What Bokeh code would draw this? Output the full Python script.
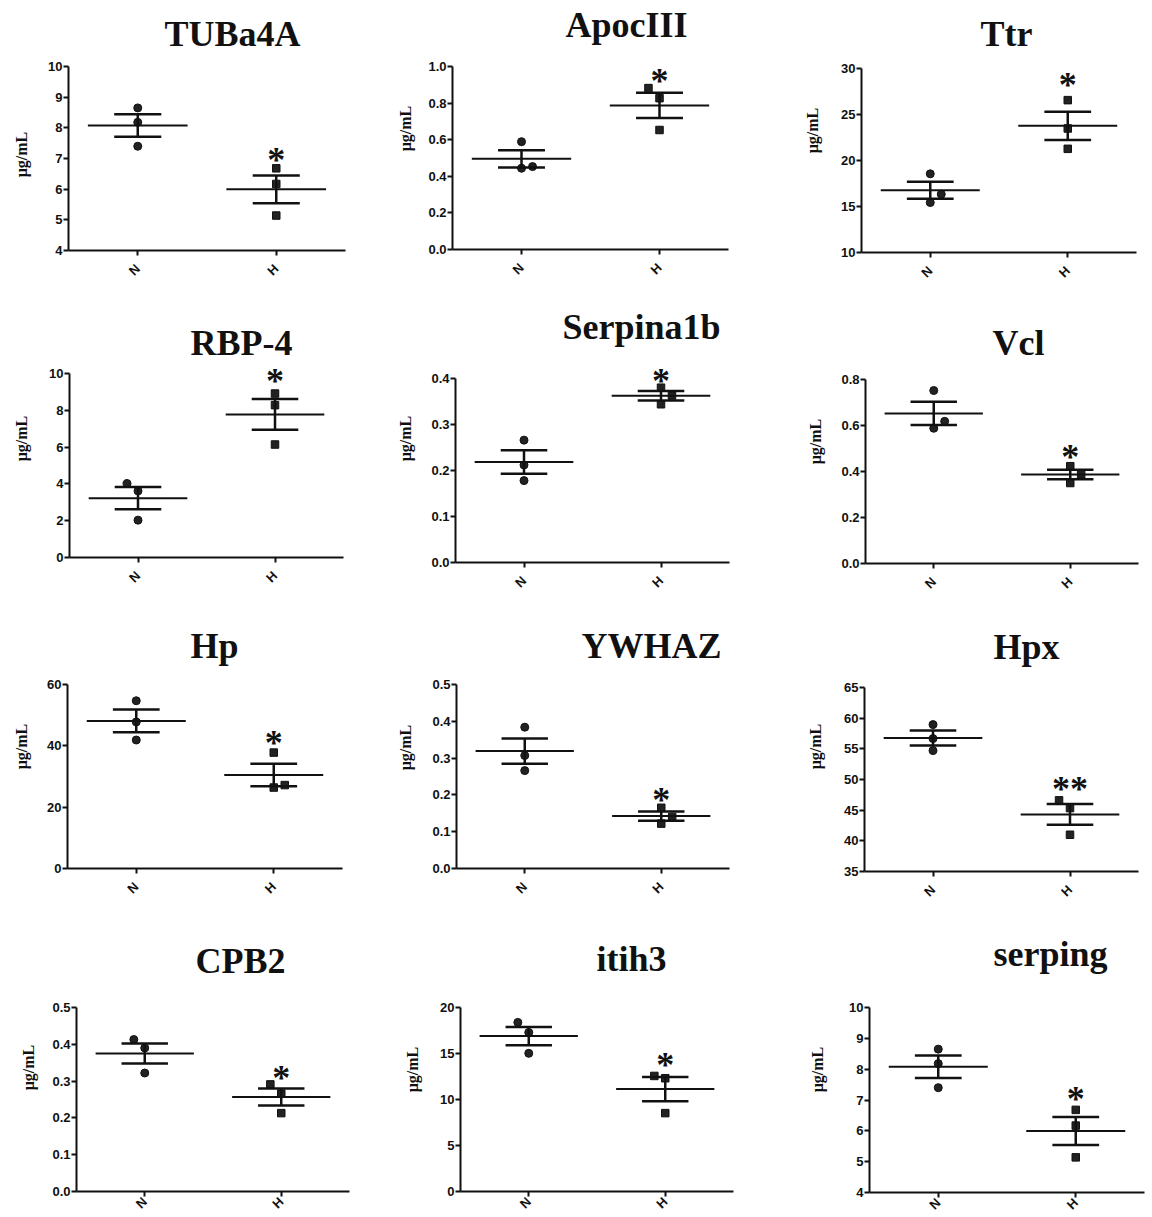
import numpy as np
from bokeh.plotting import figure
from bokeh.models import FixedTicker, Label
from bokeh.layouts import column, row
from bokeh.embed import file_html
from bokeh.resources import INLINE
from bokeh.core.properties import value

# ---------------- data ----------------
groups = ["N", "H"]
titles = ["TUBa4A", "ApocIII", "Ttr", "RBP-4", "Serpina1b", "Vcl",
          "Hp", "YWHAZ", "Hpx", "CPB2", "itih3", "serping"]
y_label = "μg/mL"

tuba4a_n = [8.65, 8.18, 7.40]
tuba4a_h = [6.68, 6.17, 5.14]
apociii_n = [0.589, 0.444, 0.453]
apociii_h = [0.882, 0.827, 0.653]
ttr_n = [18.55, 16.34, 15.43]
ttr_h = [26.56, 23.48, 21.27]
rbp4_n = [4.02, 3.62, 2.03]
rbp4_h = [8.91, 8.28, 6.14]
serpina1b_n = [0.266, 0.212, 0.178]
serpina1b_h = [0.380, 0.363, 0.344]
vcl_n = [0.752, 0.618, 0.588]
vcl_h = [0.423, 0.388, 0.350]
hp_n = [54.7, 47.8, 41.9]
hp_h = [37.8, 26.4, 27.2]
ywhaz_n = [0.384, 0.307, 0.266]
ywhaz_h = [0.165, 0.140, 0.122]
hpx_n = [58.95, 56.67, 54.71]
hpx_h = [46.60, 45.34, 40.99]
cpb2_n = [0.413, 0.390, 0.322]
cpb2_h = [0.291, 0.266, 0.213]
itih3_n = [18.38, 17.29, 15.02]
itih3_h = [12.56, 12.31, 8.52]
serping_n = [8.65, 8.18, 7.40]
serping_h = [6.68, 6.17, 5.14]

tuba4a_ticks = ["4", "5", "6", "7", "8", "9", "10"]
apociii_ticks = ["0.0", "0.2", "0.4", "0.6", "0.8", "1.0"]
ttr_ticks = ["10", "15", "20", "25", "30"]
rbp4_ticks = ["0", "2", "4", "6", "8", "10"]
serpina1b_ticks = ["0.0", "0.1", "0.2", "0.3", "0.4"]
vcl_ticks = ["0.0", "0.2", "0.4", "0.6", "0.8"]
hp_ticks = ["0", "20", "40", "60"]
ywhaz_ticks = ["0.0", "0.1", "0.2", "0.3", "0.4", "0.5"]
hpx_ticks = ["35", "40", "45", "50", "55", "60", "65"]
cpb2_ticks = ["0.0", "0.1", "0.2", "0.3", "0.4", "0.5"]
itih3_ticks = ["0", "5", "10", "15", "20"]
serping_ticks = ["4", "5", "6", "7", "8", "9", "10"]

sig_marks = ["*", "*", "*", "*", "*", "*", "*", "*", "**", "*", "*", "*"]
sig_y = [7.13, 0.95, 28.7, 9.87, 0.406, 0.485, 42.7, 0.199, 49.3, 0.322, 14.3, 7.2]

values_n = [tuba4a_n, apociii_n, ttr_n, rbp4_n, serpina1b_n, vcl_n,
            hp_n, ywhaz_n, hpx_n, cpb2_n, itih3_n, serping_n]
values_h = [tuba4a_h, apociii_h, ttr_h, rbp4_h, serpina1b_h, vcl_h,
            hp_h, ywhaz_h, hpx_h, cpb2_h, itih3_h, serping_h]
tick_sets = [tuba4a_ticks, apociii_ticks, ttr_ticks, rbp4_ticks, serpina1b_ticks, vcl_ticks,
             hp_ticks, ywhaz_ticks, hpx_ticks, cpb2_ticks, itih3_ticks, serping_ticks]

# ---------------- layout (pixels) ----------------
col_x = [0, 384, 768]
col_w = [384, 384, 384]
row_y = [0, 292, 608, 912]
row_h = [292, 316, 304, 305]
x_label_standoff = [11, 11, 11, 3]

# axis boxes: left, top, right, bottom (absolute page px)
frames = [
    (68, 66, 345, 250), (452, 66, 728, 249), (861, 68, 1136, 252),
    (69, 373, 343, 557), (455, 378, 729, 562), (865, 379, 1138, 563),
    (67, 684, 342, 868), (456, 684, 729, 868), (864, 687, 1138, 871),
    (76, 1007, 349, 1191), (460, 1007, 733, 1191), (869, 1007, 1144, 1192),
]
TITLE_SHIFT = -12
# title centre x and baseline y
title_pos = [
    (232, 45), (626, 36), (1006, 45),
    (241, 354), (641, 338), (1018, 354),
    (214, 657), (651, 657), (1026, 658),
    (240, 972), (631, 970), (1050, 965),
]
# y-axis label centre
ylab_pos = [
    (21, 154), (405, 128), (812, 130),
    (21, 438), (405, 438), (815, 441),
    (21, 746), (405, 747), (815, 746),
    (28, 1067), (412, 1069), (817, 1069),
]
# horizontal jitter steps of individual points
jit_n = [[0, 0, 0], [0, 0, 1], [0, 1, 0], [-1, 0, 0], [0, 0, 0], [0, 1, 0],
         [0, 0, 0], [0, 0, 0], [0, 0, 0], [-1, 0, 0], [-1, 0, 0], [0, 0, 0]]
jit_h = [[0, 0, 0], [-1, 0, 0], [0, 0, 0], [0, 0, 0], [0, 1, 0], [0, 1, 0],
         [0, 0, 1], [0, 1, 0], [-1, 0, 0], [-1, 0, 0], [-1, 0, 0], [0, 0, 0]]
JIT = 0.08
MEAN_HW = 0.36
CAP_HW = 0.17

INK = "#111111"
SERIF = "Liberation Serif"
SANS = "Liberation Sans"


def make_panel(i):
    c, r = i % 3, i // 3
    ox, oy = col_x[c], row_y[r]
    W, H = col_w[c], row_h[r]
    fl, ft, fr, fb = frames[i]
    fw = fr - fl
    fh = fb - ft
    ticks = [float(t) for t in tick_sets[i]]
    y0, y1 = ticks[0], ticks[-1]
    kx = 2.0 / fw
    ky = (y1 - y0) / fh
    xs_ = 0.5 - (fl - ox) * kx
    xe_ = 2.5 + (ox + W - fr) * kx
    ys_ = y0 - (oy + H - fb) * ky
    ye_ = y1 + (ft - oy) * ky

    p = figure(width=W, height=H, x_range=(xs_, xe_), y_range=(ys_, ye_),
               output_backend="svg", toolbar_location=None,
               min_border=0, min_border_left=0, min_border_right=0,
               min_border_top=0, min_border_bottom=0)
    p.outline_line_color = None
    p.xgrid.visible = False
    p.ygrid.visible = False
    p.background_fill_color = "white"
    p.border_fill_color = "white"

    # axes, pinned to the data box
    xa, ya = p.xaxis[0], p.yaxis[0]
    xa.fixed_location = y0
    xa.bounds = (0.5, 2.5)
    ya.fixed_location = 0.5
    ya.bounds = (y0, y1)
    for ax in (xa, ya):
        ax.axis_line_width = 2
        ax.axis_line_color = INK
        ax.major_tick_line_width = 2
        ax.major_tick_line_color = INK
        ax.major_tick_out = 5
        ax.major_tick_in = 0
        ax.minor_tick_line_color = None
        ax.major_label_text_font = SANS
        ax.major_label_text_font_style = "bold"
        ax.major_label_text_font_size = "13px"
        ax.major_label_text_color = INK
    ya.ticker = FixedTicker(ticks=ticks)
    ya.major_label_overrides = {t: s for t, s in zip(ticks, tick_sets[i])}
    ya.major_label_standoff = 1
    xa.ticker = FixedTicker(ticks=[1, 2])
    xa.major_label_overrides = {1: groups[0], 2: groups[1]}
    xa.major_label_orientation = np.pi / 4
    xa.major_label_standoff = x_label_standoff[r]

    def to_data(ax_, ay_):
        return xs_ + (ax_ - ox) * kx, ye_ - (ay_ - oy) * ky

    # points, mean and SEM
    for gi, (vals, jit, marker, size) in enumerate(
            [(values_n[i], jit_n[i], "circle", 8), (values_h[i], jit_h[i], "square", 7.5)]):
        xc = gi + 1
        xs = [xc + j * JIT for j in jit]
        p.scatter(xs, vals, marker=marker, size=size, fill_color="#222222",
                  line_color=INK, line_width=1)
        arr = np.array(vals, dtype=float)
        m = arr.mean()
        sem = arr.std(ddof=1) / np.sqrt(len(arr))
        p.segment(x0=[xc - MEAN_HW], y0=[m], x1=[xc + MEAN_HW], y1=[m],
                  line_color=INK, line_width=2)
        p.segment(x0=[xc - CAP_HW, xc - CAP_HW, xc], y0=[m + sem, m - sem, m - sem],
                  x1=[xc + CAP_HW, xc + CAP_HW, xc], y1=[m + sem, m - sem, m + sem],
                  line_color=INK, line_width=2.5)

    # significance mark
    p.text(x=[2], y=[sig_y[i]], text=[sig_marks[i]], text_font=value(SERIF),
           text_font_style="bold", text_font_size="36px", text_color=INK,
           text_align="center", text_baseline="middle", y_offset=5)

    # title
    tx, ty = to_data(title_pos[i][0], title_pos[i][1] + TITLE_SHIFT)
    p.add_layout(Label(x=tx, y=ty, text=titles[i], text_font=SERIF,
                       text_font_style="bold", text_font_size="36px",
                       text_color=INK, text_align="center",
                       text_baseline="alphabetic"))
    # y label
    lx, ly = to_data(*ylab_pos[i])
    p.add_layout(Label(x=lx, y=ly, text=y_label, text_font=SERIF,
                       text_font_style="bold", text_font_size="16px",
                       text_color=INK, text_align="center",
                       text_baseline="middle", angle=np.pi / 2))
    return p


panels = [make_panel(i) for i in range(12)]
layout = column(*[row(*panels[k * 3:(k + 1) * 3], spacing=0) for k in range(4)], spacing=0)

open("out.html", "w").write(file_html(layout, INLINE))
